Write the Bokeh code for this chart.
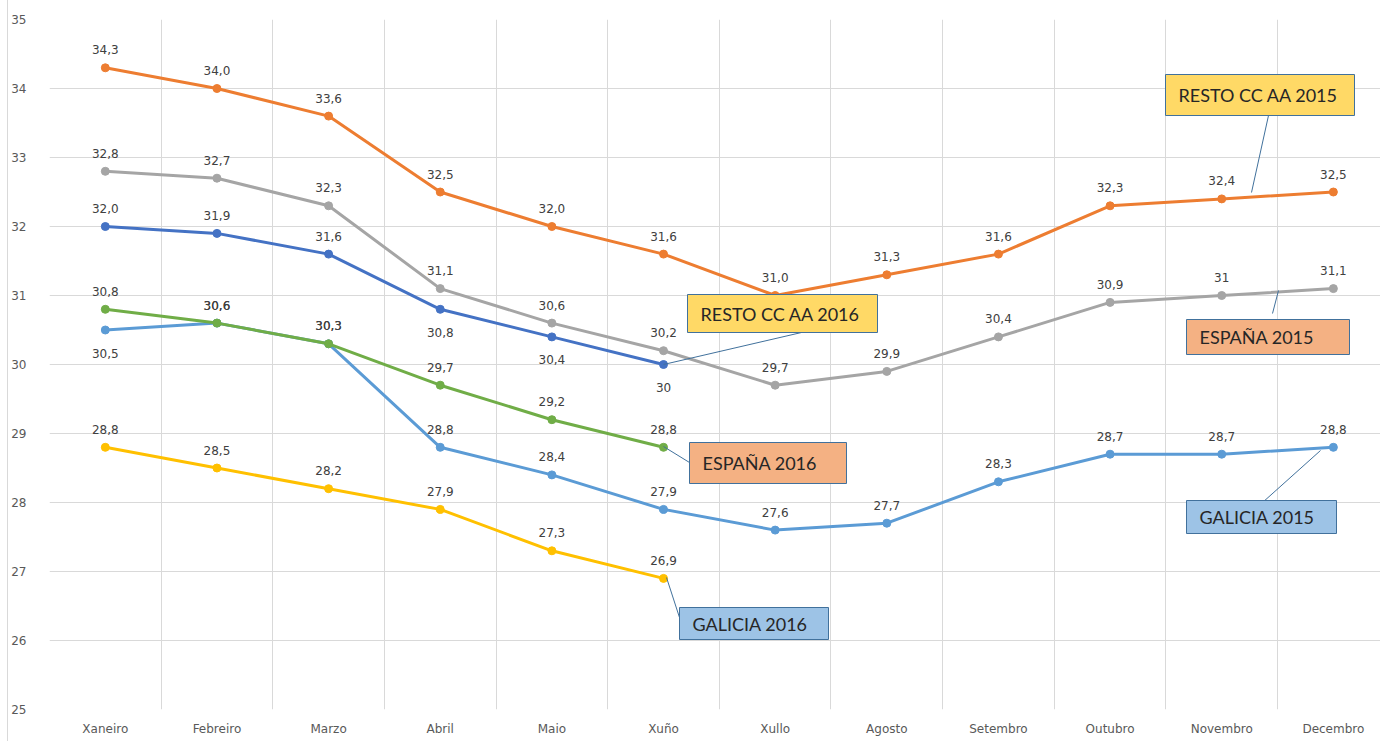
from bokeh.plotting import figure
from bokeh.models import Range1d, FixedTicker, ColumnDataSource
from bokeh.core.properties import value
from bokeh.embed import file_html
from bokeh.resources import INLINE

# ---------------- data ----------------
months = ["Xaneiro", "Febreiro", "Marzo", "Abril", "Maio", "Xuño",
          "Xullo", "Agosto", "Setembro", "Outubro", "Novembro", "Decembro"]
y_ticks = list(range(25, 36))

resto_2016 = [32.0, 31.9, 31.6, 30.8, 30.4, 30.0]
resto_2015 = [34.3, 34.0, 33.6, 32.5, 32.0, 31.6, 31.0, 31.3, 31.6, 32.3, 32.4, 32.5]
espana_2015 = [32.8, 32.7, 32.3, 31.1, 30.6, 30.2, 29.7, 29.9, 30.4, 30.9, 31.0, 31.1]
galicia_2016 = [28.8, 28.5, 28.2, 27.9, 27.3, 26.9]
galicia_2015 = [30.5, 30.6, 30.3, 28.8, 28.4, 27.9, 27.6, 27.7, 28.3, 28.7, 28.7, 28.8]
espana_2016 = [30.8, 30.6, 30.3, 29.7, 29.2, 28.8]

series_names = ["RESTO CC AA 2016", "RESTO CC AA 2015", "ESPAÑA 2015",
                "GALICIA 2016", "GALICIA 2015", "ESPAÑA 2016"]
series_values = [resto_2016, resto_2015, espana_2015, galicia_2016, galicia_2015, espana_2016]
series_colors = ["#4472C4", "#ED7D31", "#A5A5A5", "#FFC000", "#5B9BD5", "#70AD47"]

# labels shown without decimals in the original
plain_labels = {("RESTO CC AA 2016", 5), ("ESPAÑA 2015", 10)}
# labels placed below the point
below_labels = {("RESTO CC AA 2016", 3), ("RESTO CC AA 2016", 4),
                ("RESTO CC AA 2016", 5), ("GALICIA 2015", 0)}

# ---------------- layout helpers (page pixels -> data) ----------------
FIG_LEFT = 8
FRAME_LEFT = 49.0
CAT_W = 111.64
FRAME_TOP = 19.0
UNIT_H = 69.0
FIG_W = 1373
FRAME_W = FIG_W - (FRAME_LEFT - FIG_LEFT)


def xd(px):
    return (px - FRAME_LEFT) / CAT_W - 0.5


def yd(py):
    return 35 - (py - FRAME_TOP) / UNIT_H


p = figure(width=FIG_W, height=741,
           x_range=Range1d(-0.5, -0.5 + FRAME_W / CAT_W),
           y_range=Range1d(25, 35),
           output_backend="svg", toolbar_location=None,
           min_border_left=int(FRAME_LEFT - FIG_LEFT), min_border_right=0,
           min_border_top=int(FRAME_TOP), min_border_bottom=32)
p.styles = {"margin-left": "7px", "border-left": "1px solid #D9D9D9"}
p.outline_line_color = None
p.background_fill_color = "white"
p.border_fill_color = "white"

p.xaxis.ticker = FixedTicker(ticks=list(range(12)))
p.xaxis.major_label_overrides = {i: m for i, m in enumerate(months)}
p.yaxis.ticker = FixedTicker(ticks=y_ticks)
for ax in (p.xaxis, p.yaxis):
    ax.axis_line_color = None
    ax.major_tick_line_color = None
    ax.minor_tick_line_color = None
    ax.major_label_text_color = "#595959"
    ax.major_label_text_font = "DejaVu Sans"
    ax.major_label_text_font_size = "12px"
p.xaxis.major_label_standoff = 6
p.yaxis.major_label_standoff = 17

p.xgrid.ticker = FixedTicker(ticks=[i - 0.5 for i in range(12)])
p.ygrid.ticker = FixedTicker(ticks=y_ticks)
for g in (p.xgrid, p.ygrid):
    g.grid_line_color = "#D9D9D9"
    g.grid_line_width = 1

# ---------------- series ----------------
lx, ly, lt, lo = [], [], [], []
for name, vals, col in zip(series_names, series_values, series_colors):
    xs = list(range(len(vals)))
    p.line(xs, vals, line_color=col, line_width=3)
    p.scatter(xs, vals, size=8, fill_color=col, line_color=col)
    for i, v in enumerate(vals):
        if (name, i) in plain_labels:
            t = str(int(round(v)))
        else:
            t = ("%.1f" % v).replace(".", ",")
        lx.append(i)
        ly.append(v)
        lt.append(t)
        lo.append(23 if (name, i) in below_labels else -18)

# ---------------- callouts ----------------
# (text, fill, box left, top, right, bottom [px], leader x1, y1, x2, y2 [px])
callouts = [
    ("RESTO CC AA 2015", "#FFD966", 1165, 74, 1354, 115, 1268, 115, 1251, 192),
    ("ESPAÑA 2015", "#F4B183", 1186, 319, 1349, 354, 1272, 313, 1278, 290),
    ("GALICIA 2015", "#9DC3E6", 1186, 500, 1336, 533, 1262, 502, 1320, 450),
    ("RESTO CC AA 2016", "#FFD966", 687, 294, 877, 332, 801, 332, 663, 364),
    ("ESPAÑA 2016", "#F4B183", 689, 442, 846, 483, 689, 462, 663, 446),
    ("GALICIA 2016", "#9DC3E6", 679, 607, 828, 639, 679, 617, 666, 577),
]
p.segment(x0=[xd(c[6]) for c in callouts], y0=[yd(c[7]) for c in callouts],
          x1=[xd(c[8]) for c in callouts], y1=[yd(c[9]) for c in callouts],
          line_color="#41719C", line_width=1)
p.quad(left=[xd(c[2]) for c in callouts], right=[xd(c[4]) for c in callouts],
       top=[yd(c[3]) for c in callouts], bottom=[yd(c[5]) for c in callouts],
       fill_color=[c[1] for c in callouts], line_color="#41719C", line_width=1)
p.text(x=[xd(c[2] + 13) for c in callouts],
       y=[yd((c[3] + c[5]) / 2) for c in callouts],
       text=[c[0] for c in callouts],
       text_font=value("Lato"), text_font_size="18px", text_color="#262626",
       text_align="left", text_baseline="middle")

src = ColumnDataSource(dict(x=lx, y=ly, t=lt, o=lo))
p.text(x="x", y="y", text="t", y_offset="o", source=src,
       text_font=value("DejaVu Sans"), text_font_size="12px", text_color="#404040",
       text_align="center", text_baseline="middle")

open("out.html", "w").write(file_html(p, INLINE))
